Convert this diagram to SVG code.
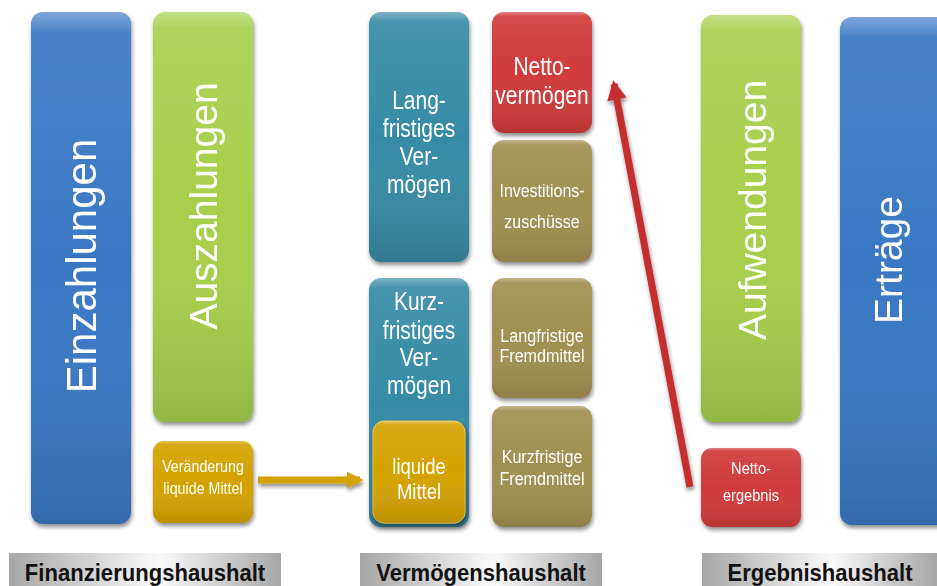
<svg xmlns="http://www.w3.org/2000/svg" width="937" height="586" viewBox="0 0 937 586">
<defs>
<filter id="sh" x="-20%" y="-20%" width="140%" height="140%">
<feGaussianBlur in="SourceAlpha" stdDeviation="2"/>
<feOffset dx="1" dy="3" result="b"/>
<feComponentTransfer><feFuncA type="linear" slope="0.45"/></feComponentTransfer>
<feMerge><feMergeNode/><feMergeNode in="SourceGraphic"/></feMerge>
</filter>
<linearGradient id="gloss" x1="0" y1="0" x2="0" y2="1">
<stop offset="0" stop-color="#fff" stop-opacity="0.35"/>
<stop offset="0.04" stop-color="#fff" stop-opacity="0.08"/>
<stop offset="0.5" stop-color="#fff" stop-opacity="0"/>
<stop offset="1" stop-color="#000" stop-opacity="0.12"/>
</linearGradient>
<linearGradient id="lab" x1="0" y1="0" x2="1" y2="0">
<stop offset="0" stop-color="#a6a6a6"/>
<stop offset="0.55" stop-color="#fafafa"/>
<stop offset="1" stop-color="#a6a6a6"/>
</linearGradient>
<marker id="ahg" viewBox="0 0 10 10" refX="8" refY="5" markerWidth="2.4" markerHeight="2.6" orient="auto" markerUnits="strokeWidth">
<path d="M0,0 L10,5 L0,10 z" fill="#d4a200"/>
</marker>
<marker id="ahr" viewBox="0 0 10 10" refX="8" refY="5" markerWidth="3" markerHeight="2.8" orient="auto" markerUnits="strokeWidth">
<path d="M0,0 L10,5 L0,10 z" fill="#c52e2e"/>
</marker>
</defs>
<style>
.t{font-family:"Liberation Sans",Arial,sans-serif;fill:#fff;text-anchor:middle}
.l{font-family:"Liberation Sans",Arial,sans-serif;font-weight:bold;fill:#111;text-anchor:middle;font-size:24px}
.blue{fill:#3a78c4}.green{fill:#a6cf4b}.gold{fill:#d4a200}.teal{fill:#368ba6}.red{fill:#d13a3a}.olive{fill:#a18f50}
.g{fill:url(#gloss)}
</style>

<g id="einzahlungen" filter="url(#sh)">
<rect class="blue" x="31" y="12" width="100" height="512" rx="12"/>
<rect class="g" x="31" y="12" width="100" height="512" rx="12"/>
<text class="t" font-size="42" transform="translate(96,266) rotate(-90)">Einzahlungen</text>
</g>
<g id="auszahlungen" filter="url(#sh)">
<rect class="green" x="153" y="12" width="100" height="410" rx="12"/>
<rect class="g" x="153" y="12" width="100" height="410" rx="12"/>
<text class="t" font-size="39" transform="translate(217,206) rotate(-90)">Auszahlungen</text>
</g>
<g id="veraenderung" filter="url(#sh)">
<rect class="gold" x="153" y="441" width="100" height="82" rx="11"/>
<rect class="g" x="153" y="441" width="100" height="82" rx="11"/>
<text class="t" font-size="17" transform="translate(203,0) scale(0.84,1)"><tspan x="0" y="472">Veränderung</tspan><tspan x="0" y="494">liquide Mittel</tspan></text>
</g>

<g id="langfristiges-vermoegen" filter="url(#sh)">
<rect class="teal" x="369" y="12" width="100" height="250" rx="12"/>
<rect class="g" x="369" y="12" width="100" height="250" rx="12"/>
<text class="t" font-size="25" transform="translate(419,0) scale(0.84,1)"><tspan x="0" y="109">Lang-</tspan><tspan x="0" y="137">fristiges</tspan><tspan x="0" y="165">Ver-</tspan><tspan x="0" y="193">mögen</tspan></text>
</g>
<g id="nettovermoegen" filter="url(#sh)">
<rect class="red" x="492" y="12" width="100" height="121" rx="12"/>
<rect class="g" x="492" y="12" width="100" height="121" rx="12"/>
<text class="t" font-size="25" transform="translate(542,0) scale(0.84,1)"><tspan x="0" y="75">Netto-</tspan><tspan x="0" y="104">vermögen</tspan></text>
</g>
<g id="investitionszuschuesse" filter="url(#sh)">
<rect class="olive" x="492" y="140" width="100" height="122" rx="12"/>
<rect class="g" x="492" y="140" width="100" height="122" rx="12"/>
<text class="t" font-size="19" transform="translate(542,0) scale(0.84,1)"><tspan x="0" y="197">Investitions-</tspan><tspan x="0" y="228">zuschüsse</tspan></text>
</g>
<g id="kurzfristiges-vermoegen" filter="url(#sh)">
<rect class="teal" x="369" y="278" width="100" height="249" rx="12"/>
<rect class="g" x="369" y="278" width="100" height="249" rx="12"/>
<text class="t" font-size="25" transform="translate(419,0) scale(0.84,1)"><tspan x="0" y="310">Kurz-</tspan><tspan x="0" y="339">fristiges</tspan><tspan x="0" y="366">Ver-</tspan><tspan x="0" y="394">mögen</tspan></text>
</g>
<g id="liquide-mittel" filter="url(#sh)">
<rect class="gold" x="373" y="421" width="92" height="102" rx="11" stroke="#e8c440" stroke-width="1"/>
<rect class="g" x="373" y="421" width="92" height="102" rx="11"/>
<text class="t" font-size="22" transform="translate(419,0) scale(0.84,1)"><tspan x="0" y="474">liquide</tspan><tspan x="0" y="499">Mittel</tspan></text>
</g>
<g id="langfristige-fremdmittel" filter="url(#sh)">
<rect class="olive" x="492" y="278" width="100" height="120" rx="12"/>
<rect class="g" x="492" y="278" width="100" height="120" rx="12"/>
<text class="t" font-size="19" transform="translate(542,0) scale(0.85,1)"><tspan x="0" y="342">Langfristige</tspan><tspan x="0" y="362">Fremdmittel</tspan></text>
</g>
<g id="kurzfristige-fremdmittel" filter="url(#sh)">
<rect class="olive" x="492" y="406" width="100" height="121" rx="12"/>
<rect class="g" x="492" y="406" width="100" height="121" rx="12"/>
<text class="t" font-size="19" transform="translate(542,0) scale(0.85,1)"><tspan x="0" y="463">Kurzfristige</tspan><tspan x="0" y="485">Fremdmittel</tspan></text>
</g>

<g id="aufwendungen" filter="url(#sh)">
<rect class="green" x="701" y="15" width="100" height="407" rx="12"/>
<rect class="g" x="701" y="15" width="100" height="407" rx="12"/>
<text class="t" font-size="39" transform="translate(766,210) rotate(-90)">Aufwendungen</text>
</g>
<g id="nettoergebnis" filter="url(#sh)">
<rect class="red" x="701" y="448" width="100" height="79" rx="11"/>
<rect class="g" x="701" y="448" width="100" height="79" rx="11"/>
<text class="t" font-size="17" transform="translate(751,0) scale(0.86,1)"><tspan x="0" y="474">Netto-</tspan><tspan x="0" y="501">ergebnis</tspan></text>
</g>
<g id="ertraege" filter="url(#sh)">
<rect class="blue" x="840" y="17" width="110" height="508" rx="12"/>
<rect class="g" x="840" y="17" width="110" height="508" rx="12"/>
<text class="t" font-size="39" transform="translate(902,260) rotate(-90)">Erträge</text>
</g>

<g id="connectors" filter="url(#sh)">
<line x1="258" y1="480" x2="360" y2="480" stroke="#d4a200" stroke-width="7" marker-end="url(#ahg)"/>
<line x1="690" y1="487" x2="614" y2="84" stroke="#c52e2e" stroke-width="7" marker-end="url(#ahr)"/>
</g>

<g id="label-finanzierungshaushalt">
<rect x="9" y="553" width="272" height="33" fill="url(#lab)"/>
<text class="l" transform="translate(145,581) scale(0.92,1)">Finanzierungshaushalt</text>
</g>
<g id="label-vermoegenshaushalt">
<rect x="360" y="553" width="242" height="33" fill="url(#lab)"/>
<text class="l" transform="translate(481,581) scale(0.92,1)">Vermögenshaushalt</text>
</g>
<g id="label-ergebnishaushalt">
<rect x="702" y="553" width="235" height="33" fill="url(#lab)"/>
<text class="l" transform="translate(820,581) scale(0.92,1)">Ergebnishaushalt</text>
</g>
</svg>
